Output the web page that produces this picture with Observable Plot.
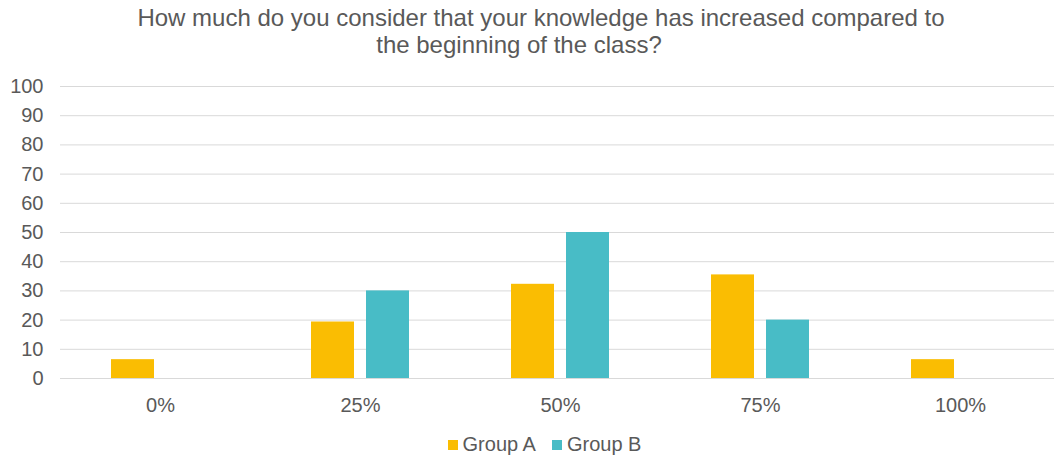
<!DOCTYPE html>
<html>
<head>
<meta charset="utf-8">
<script src="https://cdn.jsdelivr.net/npm/d3@7"></script>
<script src="https://cdn.jsdelivr.net/npm/@observablehq/plot@0.6"></script>
<style>
  html, body { margin: 0; padding: 0; background: #fff; overflow: hidden; }
  body { width: 1054px; height: 461px; font-family: "Liberation Sans", Arial, sans-serif; color: #595959; }
  .title { margin-top: 4px; font-size: 24px; line-height: 27px; text-align: center; width: 1054px; }
  .title .l1 { padding-left: 28px; }
  .title .l2 { padding-right: 16px; }
  #chart svg { display: block; }
  .legend { display: flex; justify-content: center; align-items: center; font-size: 20px; height: 33px; padding-left: 35px; }
  .legend .item { display: flex; align-items: center; margin: 0 8px; }
  .legend .sw { width: 10px; height: 10px; margin-right: 5px; }
</style>
</head>
<body>
<div class="title"><div class="l1">How much do you consider that your knowledge has increased compared to</div><div class="l2">the beginning of the class?</div></div>
<div id="chart"></div>
<div class="legend" id="legend"></div>
<script>
const categories = ["0%", "25%", "50%", "75%", "100%"];
const groups = ["Group A", "Group B"];
const groupA = [6.45, 19.35, 32.26, 35.48, 6.45];
const groupB = [0, 30, 50, 20, 0];
const yTicks = [0, 10, 20, 30, 40, 50, 60, 70, 80, 90, 100];
const colors = ["#FABD02", "#48BCC6"];

const rows = [];
categories.forEach((c, i) => {
  rows.push({cat: c, group: groups[0], value: groupA[i]});
  rows.push({cat: c, group: groups[1], value: groupB[i]});
});

const chart = Plot.plot({
  width: 1054,
  height: 370,
  marginLeft: 60,
  marginRight: -6,
  marginTop: 28,
  marginBottom: 50,
  style: {fontFamily: "'Liberation Sans', Arial, sans-serif", fontSize: "20px", color: "#595959", overflow: "hidden"},
  fx: {domain: categories, padding: 0, label: null, axis: "bottom", tickSize: 0, tickPadding: 19},
  x: {domain: groups, paddingInner: 0.2143, paddingOuter: 0.893, axis: null},
  y: {domain: [0, 100], ticks: yTicks, label: null, tickSize: 0, tickPadding: 17},
  color: {domain: groups, range: colors},
  marks: [
    Plot.ruleY(yTicks, {stroke: "#d9d9d9", strokeWidth: 1}),
    Plot.barY(rows.filter(d => d.value > 0), {fx: "cat", x: "group", y: "value", fill: "group"})
  ]
});
document.getElementById("chart").appendChild(chart);

const legend = document.getElementById("legend");
groups.forEach((g, i) => {
  const item = document.createElement("div");
  item.className = "item";
  const sw = document.createElement("div");
  sw.className = "sw";
  sw.style.background = colors[i];
  const t = document.createElement("span");
  t.textContent = g;
  item.appendChild(sw);
  item.appendChild(t);
  legend.appendChild(item);
});
</script>
</body>
</html>
